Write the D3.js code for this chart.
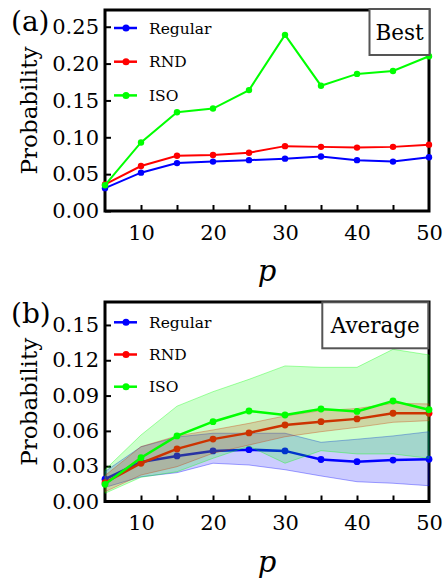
<!DOCTYPE html>
<html>
<head>
<meta charset="utf-8">
<script src="https://cdn.jsdelivr.net/npm/d3@7"></script>
<style>
  body { margin: 0; background: #fff; }
  text { font-family: "DejaVu Serif", serif; fill: #000; }
</style>
</head>
<body>
<div id="chart"></div>
<script>
// data
const pValues = [5, 10, 15, 20, 25, 30, 35, 40, 45, 50];
const seriesNames = ["Regular", "RND", "ISO"];

// (a) best
const bestRegular = [0.031, 0.052, 0.065, 0.067, 0.069, 0.071, 0.074, 0.069, 0.067, 0.073];
const bestRND = [0.036, 0.061, 0.075, 0.076, 0.079, 0.088, 0.087, 0.086, 0.087, 0.090];
const bestISO = [0.035, 0.093, 0.134, 0.139, 0.164, 0.239, 0.170, 0.186, 0.190, 0.210];

// (b) average, with spread bands
const avgRegular = [0.019, 0.0335, 0.0387, 0.043, 0.044, 0.043, 0.0357, 0.0338, 0.0352, 0.0359];
const avgRND = [0.016, 0.0325, 0.0447, 0.053, 0.0583, 0.065, 0.0678, 0.0702, 0.075, 0.075];
const avgISO = [0.0146, 0.0372, 0.0557, 0.0678, 0.0769, 0.0735, 0.0786, 0.0765, 0.0854, 0.078];

const regLow = [0.012, 0.021, 0.0245, 0.0325, 0.031, 0.027, 0.0217, 0.0168, 0.0155, 0.0134];
const regHigh = [0.0255, 0.0465, 0.0548, 0.058, 0.058, 0.058, 0.0503, 0.0529, 0.0557, 0.0593];
const rndLow = [0.0083, 0.0225, 0.0296, 0.041, 0.048, 0.055, 0.0593, 0.063, 0.0673, 0.0687];
const rndHigh = [0.022, 0.0466, 0.0557, 0.0608, 0.0664, 0.0727, 0.0772, 0.079, 0.0834, 0.0829];
const isoLow = [0.007, 0.0206, 0.0253, 0.0367, 0.047, 0.0325, 0.0432, 0.0404, 0.0404, 0.0367];
const isoHigh = [0.027, 0.0565, 0.081, 0.0933, 0.1038, 0.1152, 0.114, 0.114, 0.1293, 0.1245];

// ticks
const xTickLabels = [10, 20, 30, 40, 50];
const xTickMarks = [10, 15, 20, 25, 30, 35, 40, 45];
const yTicksBest = [0, 0.05, 0.10, 0.15, 0.20, 0.25];
const yTicksAvg = [0, 0.03, 0.06, 0.09, 0.12, 0.15];

const colors = ["#0000ff", "#ff0000", "#00ff00"];

const width = 446;
const height = 584;

const svg = d3.select("#chart")
    .append("svg")
    .attr("width", width)
    .attr("height", height);

const drawPanel = (opt) => {
    const left = 105, right = 429;
    const xScale = d3.scaleLinear().domain([5, 50]).range([left, right]);
    const yScale = d3.scaleLinear().domain(opt.yDomain).range([opt.bottom, opt.top]);

    const g = svg.append("g");

    // frame
    g.append("rect")
        .attr("x", left)
        .attr("y", opt.top)
        .attr("width", right - left)
        .attr("height", opt.bottom - opt.top)
        .attr("fill", "none")
        .attr("stroke", "#000")
        .attr("stroke-width", 3);

    // axes, ticks pointing inside
    const leftAxis = d3.axisLeft(yScale)
        .tickValues(opt.yTicks)
        .tickFormat(d3.format(".2f"))
        .tickSizeInner(-6)
        .tickSizeOuter(0)
        .tickPadding(6);
    const yAx = g.append("g")
        .attr("transform", `translate(${left},0)`)
        .call(leftAxis);
    yAx.select(".domain").remove();
    yAx.selectAll("line").attr("stroke", "#000").attr("stroke-width", 2);
    yAx.selectAll("text").attr("font-size", 21).attr("font-family", "DejaVu Serif");

    const tickAxis = d3.axisBottom(xScale)
        .tickValues(xTickMarks)
        .tickFormat("")
        .tickSizeInner(-6)
        .tickSizeOuter(0);
    const xAx = g.append("g")
        .attr("transform", `translate(0,${opt.bottom})`)
        .call(tickAxis);
    xAx.select(".domain").remove();
    xAx.selectAll("line").attr("stroke", "#000").attr("stroke-width", 2);

    const labelAxis = d3.axisBottom(xScale)
        .tickValues(xTickLabels)
        .tickSize(0)
        .tickPadding(14);
    const xLab = g.append("g")
        .attr("transform", `translate(0,${opt.bottom})`)
        .call(labelAxis);
    xLab.select(".domain").remove();
    xLab.selectAll("text").attr("font-size", 21).attr("font-family", "DejaVu Serif");

    // bands and lines, series in order
    const line = d3.line()
        .x((d, i) => xScale(pValues[i]))
        .y(d => yScale(d));
    const area = d3.area()
        .x((d, i) => xScale(pValues[i]))
        .y0(d => yScale(d[0]))
        .y1(d => yScale(d[1]));

    opt.series.forEach((vals, k) => {
        if (opt.bands) {
            const band = opt.bands[k][0].map((lo, i) => [lo, opt.bands[k][1][i]]);
            g.append("path")
                .datum(band)
                .attr("d", area)
                .attr("fill", colors[k])
                .attr("fill-opacity", 0.2)
                .attr("stroke", colors[k])
                .attr("stroke-opacity", 0.35)
                .attr("stroke-width", 1);
        }
        g.append("path")
            .datum(vals)
            .attr("d", line)
            .attr("fill", "none")
            .attr("stroke", colors[k])
            .attr("stroke-width", opt.lineWidth);
        g.selectAll(null)
            .data(vals)
            .join("circle")
            .attr("cx", (d, i) => xScale(pValues[i]))
            .attr("cy", d => yScale(d))
            .attr("r", opt.radius)
            .attr("fill", colors[k]);
    });

    // legend
    seriesNames.forEach((name, k) => {
        const y = opt.legendTop + k * opt.legendStep;
        g.append("line")
            .attr("x1", 114).attr("x2", 137)
            .attr("y1", y).attr("y2", y)
            .attr("stroke", colors[k])
            .attr("stroke-width", 2.5);
        g.append("circle")
            .attr("cx", 126).attr("cy", y)
            .attr("r", 3.5)
            .attr("fill", colors[k]);
        g.append("text")
            .attr("x", 149)
            .attr("y", y + 5.5)
            .attr("font-size", 15.5)
            .text(name);
    });

    // title box
    g.append("rect")
        .attr("x", opt.box[0])
        .attr("y", opt.box[1])
        .attr("width", opt.box[2])
        .attr("height", opt.box[3])
        .attr("fill", "#fff")
        .attr("stroke", "#555")
        .attr("stroke-width", 2);
    g.append("text")
        .attr("x", opt.box[0] + opt.box[2] / 2)
        .attr("y", opt.box[1] + opt.box[3] / 2 + 7.5)
        .attr("text-anchor", "middle")
        .attr("font-size", 21.5)
        .text(opt.title);

    // panel label
    g.append("text")
        .attr("x", 11)
        .attr("y", opt.top + 21)
        .attr("font-size", 28)
        .text(opt.label);

    // y label
    g.append("text")
        .attr("transform", `translate(37,${(opt.top + opt.bottom) / 2}) rotate(-90)`)
        .attr("text-anchor", "middle")
        .attr("font-size", 23)
        .text("Probability");

    // x label
    g.append("text")
        .attr("x", (left + right) / 2)
        .attr("y", opt.bottom + 70)
        .attr("text-anchor", "middle")
        .attr("font-family", "Liberation Serif")
        .attr("font-size", 29)
        .attr("font-style", "italic")
        .text("p");
};

drawPanel({
    top: 10, bottom: 211,
    yDomain: [0, 0.2727],
    yTicks: yTicksBest,
    series: [bestRegular, bestRND, bestISO],
    lineWidth: 2,
    radius: 3.2,
    legendTop: 28, legendStep: 33.7,
    box: [369.5, 9, 60, 46],
    title: "Best",
    label: "(a)"
});

drawPanel({
    top: 302, bottom: 501.5,
    yDomain: [0, 0.1695],
    yTicks: yTicksAvg,
    series: [avgRegular, avgRND, avgISO],
    bands: [[regLow, regHigh], [rndLow, rndHigh], [isoLow, isoHigh]],
    lineWidth: 2.5,
    radius: 3.4,
    legendTop: 322.3, legendStep: 32.2,
    box: [322.3, 302.3, 106, 46],
    title: "Average",
    label: "(b)"
});
</script>
</body>
</html>
